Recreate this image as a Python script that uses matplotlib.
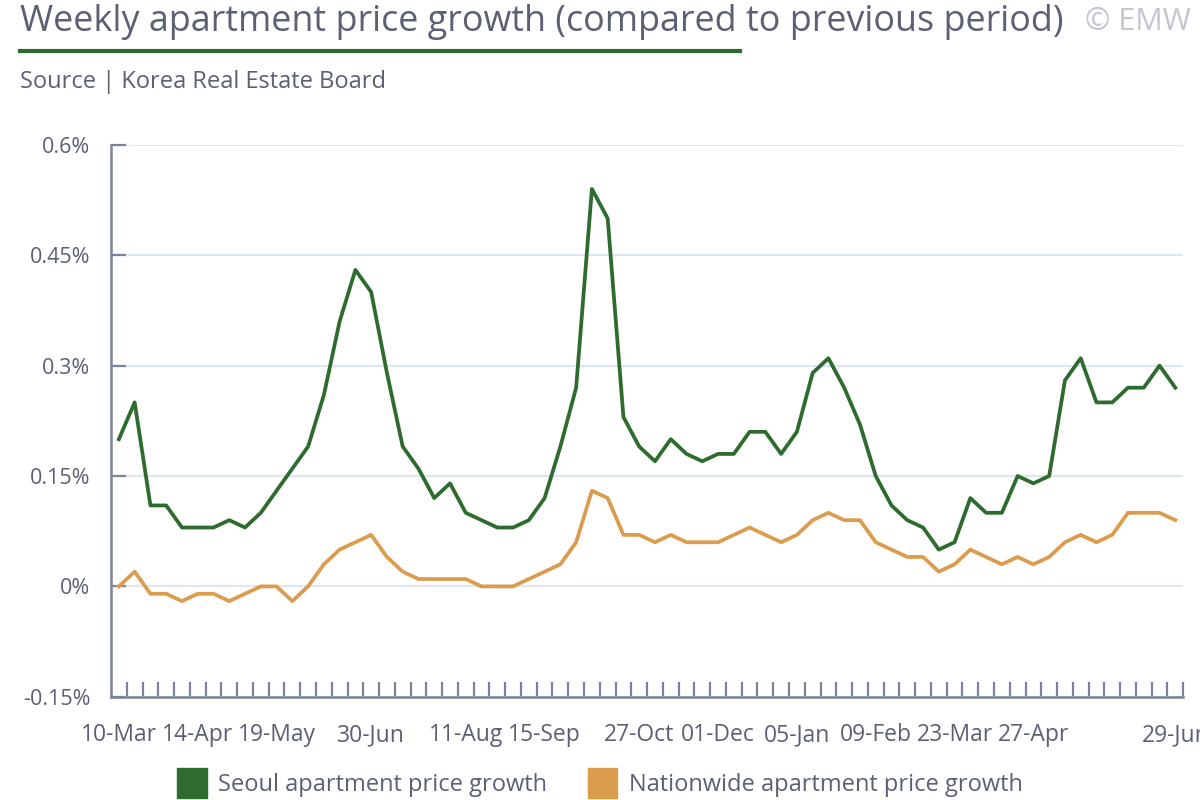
import numpy as np
import pandas as pd
import matplotlib
matplotlib.use("Agg")
import matplotlib.pyplot as plt
from matplotlib.patches import Patch
from matplotlib.lines import Line2D

# weekly dates (survey week of 16-Feb skipped, Lunar New Year)
dates = pd.date_range("2025-03-10", "2026-06-29", freq="7D")
dates = dates[dates != pd.Timestamp("2026-02-16")]

seoul = [0.20, 0.25, 0.11, 0.11, 0.08, 0.08, 0.08, 0.09, 0.08, 0.10,
         0.13, 0.16, 0.19, 0.26, 0.36, 0.43, 0.40, 0.29, 0.19, 0.16,
         0.12, 0.14, 0.10, 0.09, 0.08, 0.08, 0.09, 0.12, 0.19, 0.27,
         0.54, 0.50, 0.23, 0.19, 0.17, 0.20, 0.18, 0.17, 0.18, 0.18,
         0.21, 0.21, 0.18, 0.21, 0.29, 0.31, 0.27, 0.22, 0.15, 0.11,
         0.09, 0.08, 0.05, 0.06, 0.12, 0.10, 0.10, 0.15, 0.14, 0.15,
         0.28, 0.31, 0.25, 0.25, 0.27, 0.27, 0.30, 0.27]
nation = [0.00, 0.02, -0.01, -0.01, -0.02, -0.01, -0.01, -0.02, -0.01, 0.00,
          0.00, -0.02, 0.00, 0.03, 0.05, 0.06, 0.07, 0.04, 0.02, 0.01,
          0.01, 0.01, 0.01, 0.00, 0.00, 0.00, 0.01, 0.02, 0.03, 0.06,
          0.13, 0.12, 0.07, 0.07, 0.06, 0.07, 0.06, 0.06, 0.06, 0.07,
          0.08, 0.07, 0.06, 0.07, 0.09, 0.10, 0.09, 0.09, 0.06, 0.05,
          0.04, 0.04, 0.02, 0.03, 0.05, 0.04, 0.03, 0.04, 0.03, 0.04,
          0.06, 0.07, 0.06, 0.07, 0.10, 0.10, 0.10, 0.09]

label_dates = ["2025-03-10", "2025-04-14", "2025-05-19", "2025-06-30", "2025-08-11",
               "2025-09-15", "2025-10-27", "2025-12-01", "2026-01-05", "2026-02-09",
               "2026-03-23", "2026-04-27", "2026-06-29"]
y_ticks = [-0.15, 0, 0.15, 0.3, 0.45, 0.6]
y_labels = ["-0.15%", "0%", "0.15%", "0.3%", "0.45%", "0.6%"]

GREEN = "#2e6b2e"
ORANGE = "#dc9c4e"
TEXT = "#5b6073"
AXIS = "#7c8398"
GRID = "#dde6f1"

plt.rcParams["font.family"] = ["Open Sans", "DejaVu Sans"]

fig = plt.figure(figsize=(12, 8), dpi=100)
ax = fig.add_axes([0.0925, 0.129, 0.8935, 0.69])

x = np.arange(len(dates))
ax.plot(x, seoul, color=GREEN, lw=2.7, zorder=3)
ax.plot(x, nation, color=ORANGE, lw=2.7, zorder=3)

ax.set_xlim(-0.5, len(dates) - 0.5)
ax.set_ylim(-0.15, 0.6)

# major ticks carry the labels, minor ticks mark category boundaries
idx = [list(dates).index(pd.Timestamp(d)) for d in label_dates]
ax.set_xticks(idx)
ax.set_xticklabels([pd.Timestamp(d).strftime("%d-%b") for d in label_dates])
ax.set_xticks(np.arange(0.5, len(dates), 1), minor=True)
ax.tick_params(axis="x", which="major", length=0, pad=19, labelsize=16.5, labelcolor=TEXT)
ax.tick_params(axis="x", which="minor", direction="in", length=11, width=1.6, color=AXIS)

ax.set_yticks(y_ticks)
ax.set_yticklabels(y_labels)
ax.tick_params(axis="y", direction="in", length=11, width=1.6, color=AXIS,
               pad=15, labelsize=15.5, labelcolor=TEXT)

ax.grid(axis="y", color=GRID, lw=1.5, zorder=0)
ax.set_axisbelow(True)
for s in ["top", "right"]:
    ax.spines[s].set_visible(False)
for s in ["left", "bottom"]:
    ax.spines[s].set_color(AXIS)
    ax.spines[s].set_linewidth(1.8)

# title block
fig.text(0.017, 0.972, "Weekly apartment price growth (compared to previous period)",
         fontsize=25.8, color=TEXT, va="center", ha="left")
fig.add_artist(Line2D([0.017, 0.617], [0.936, 0.936], color=GREEN, lw=3,
                      transform=fig.transFigure))
fig.text(0.017, 0.898, "Source | Korea Real Estate Board", fontsize=17,
         color=TEXT, va="center", ha="left")
fig.text(0.904, 0.972, "© EMW", fontsize=22, color="#c3c5cf", va="center", ha="left")

handles = [Patch(color=GREEN, label="Seoul apartment price growth"),
           Patch(color=ORANGE, label="Nationwide apartment price growth")]
leg = fig.legend(handles=handles, loc="center", bbox_to_anchor=(0.5, 0.021),
                 ncol=2, frameon=False, fontsize=17, handlelength=1.25,
                 handleheight=1.6, handletextpad=0.5, columnspacing=1.7)
for t in leg.get_texts():
    t.set_color(TEXT)

fig.savefig("out.png", dpi=100)
